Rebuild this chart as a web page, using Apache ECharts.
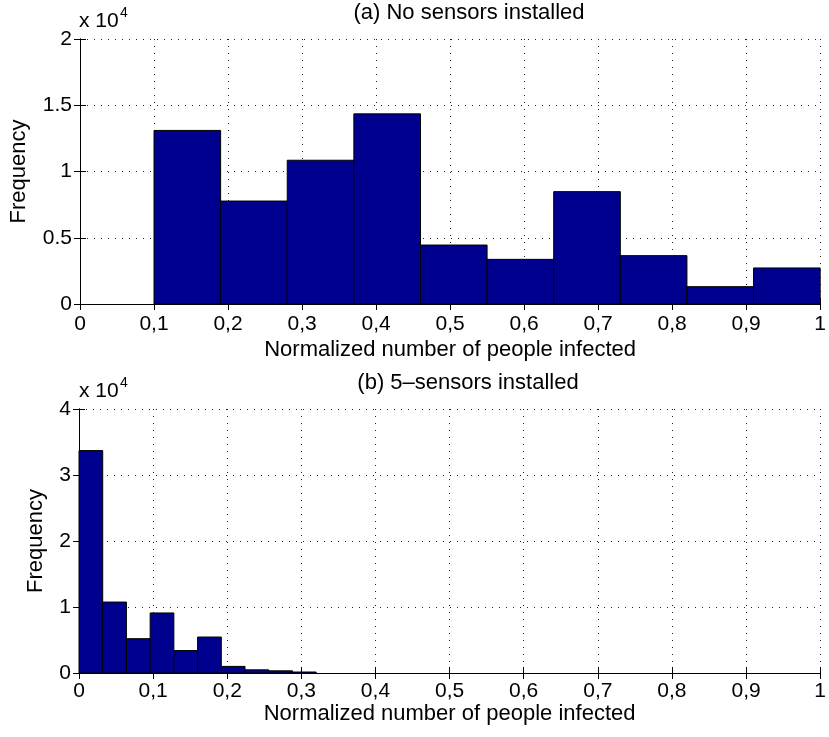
<!DOCTYPE html>
<html>
<head>
<meta charset="utf-8">
<script src="https://cdn.jsdelivr.net/npm/echarts@6/dist/echarts.min.js"></script>
<style>
  html, body { margin: 0; padding: 0; background: #fff; }
  #chart { width: 829px; height: 737px; }
</style>
</head>
<body>
<div id="chart"></div>
<script>
// (a) no sensors: bin edges and counts
const binEdgesA = [0.1, 0.19, 0.28, 0.37, 0.46, 0.55, 0.64, 0.73, 0.82, 0.91, 1.0];
const countsA = [13100, 7770, 10850, 14350, 4450, 3370, 8480, 3650, 1310, 2720];
// (b) 5 sensors
const binEdgesB = [0, 0.032, 0.064, 0.096, 0.128, 0.16, 0.192, 0.224, 0.256, 0.288, 0.32];
const countsB = [33700, 10750, 5200, 9100, 3400, 5450, 1000, 480, 330, 150];

const xTickLabels = ['0', '0,1', '0,2', '0,3', '0,4', '0,5', '0,6', '0,7', '0,8', '0,9', '1'];
const yTickLabelsA = ['0', '0.5', '1', '1.5', '2'];
const yTickLabelsB = ['0', '1', '2', '3', '4'];

const FONT = "'Liberation Sans', Arial, Helvetica, sans-serif";
const barColor = '#00008f';

const toBins = (edges, counts) => counts.map((c, i) => [edges[i], edges[i + 1], c]);

const myChart = echarts.init(document.getElementById('chart'), null, { renderer: 'canvas' });

const gridLine = { show: true, lineStyle: { color: '#222', width: 1, type: [1, 6] } };

function bottomX(gridIndex, nameGap, margin) {
  return {
    type: 'value', gridIndex: gridIndex, min: 0, max: 1, interval: 0.1,
    name: 'Normalized number of people infected',
    nameLocation: 'middle', nameGap: nameGap,
    nameTextStyle: { color: '#000', fontSize: 22, fontFamily: FONT },
    axisLine: { show: true, lineStyle: { color: '#000', width: 1 } },
    axisTick: { show: true, inside: true, length: 6, lineStyle: { color: '#000' } },
    axisLabel: {
      color: '#000', fontSize: 21, fontFamily: FONT, margin: margin,
      formatter: (v, i) => xTickLabels[i]
    },
    splitLine: gridLine
  };
}
function topX(gridIndex) {
  return {
    type: 'value', gridIndex: gridIndex, position: 'top', min: 0, max: 1, interval: 0.1,
    axisLine: { show: true, lineStyle: { color: '#000', width: 1 } },
    axisTick: { show: true, inside: true, length: 6, lineStyle: { color: '#000' } },
    axisLabel: { show: false }, splitLine: { show: false }
  };
}
function leftY(gridIndex, max, labels, nameGap) {
  return {
    type: 'value', gridIndex: gridIndex, min: 0, max: max, interval: max / 4,
    name: 'Frequency', nameLocation: 'middle', nameGap: nameGap, nameRotate: 90,
    nameTextStyle: { color: '#000', fontSize: 22, fontFamily: FONT },
    axisLine: { show: true, lineStyle: { color: '#000', width: 1 } },
    axisTick: { show: true, inside: true, length: 6, lineStyle: { color: '#000' } },
    axisLabel: {
      color: '#000', fontSize: 21, fontFamily: FONT, margin: 8,
      formatter: (v, i) => labels[i]
    },
    splitLine: gridLine
  };
}
function rightY(gridIndex, max) {
  return {
    type: 'value', gridIndex: gridIndex, position: 'right', min: 0, max: max, interval: max / 4,
    axisLine: { show: true, lineStyle: { color: '#000', width: 1 } },
    axisTick: { show: true, inside: true, length: 6, lineStyle: { color: '#000' } },
    axisLabel: { show: false }, splitLine: { show: false }
  };
}

function histSeries(xIdx, yIdx, bins) {
  return {
    type: 'custom', xAxisIndex: xIdx, yAxisIndex: yIdx,
    encode: { x: [0, 1], y: 2 },
    data: bins,
    renderItem: function (params, api) {
      const p0 = api.coord([api.value(0), api.value(2)]);
      const p1 = api.coord([api.value(1), 0]);
      return {
        type: 'rect',
        shape: { x: p0[0], y: p0[1], width: p1[0] - p0[0], height: p1[1] - p0[1] },
        style: { fill: barColor, stroke: '#000', lineWidth: 1 }
      };
    }
  };
}

function txt(text, x, y, size, align) {
  return {
    type: 'text', x: x, y: y, silent: true,
    style: { text: text, fill: '#000', fontSize: size, fontFamily: FONT, align: align || 'left', verticalAlign: 'middle' }
  };
}

const option = {
  backgroundColor: '#ffffff',
  animation: false,
  grid: [
    { left: 79, top: 39, width: 747, height: 265 },
    { left: 79, top: 409, width: 747, height: 264 }
  ],
  xAxis: [bottomX(0, 35, 10), topX(0), bottomX(1, 26, 8), topX(1)],
  yAxis: [leftY(0, 20000, yTickLabelsA, 50), rightY(0, 20000), leftY(1, 40000, yTickLabelsB, 32), rightY(1, 40000)],
  series: [
    histSeries(0, 0, toBins(binEdgesA, countsA)),
    histSeries(2, 2, toBins(binEdgesB, countsB))
  ],
  graphic: [
    txt('(a) No sensors installed', 469, 13, 22, 'center'),
    txt('(b) 5\u2013sensors installed', 468, 383, 22, 'center'),
    txt('x 10', 79, 21.5, 21),
    txt('4', 120, 13, 14),
    txt('x 10', 79, 391.5, 21),
    txt('4', 120, 383, 14)
  ]
};
option && myChart.setOption(option);
</script>
</body>
</html>
